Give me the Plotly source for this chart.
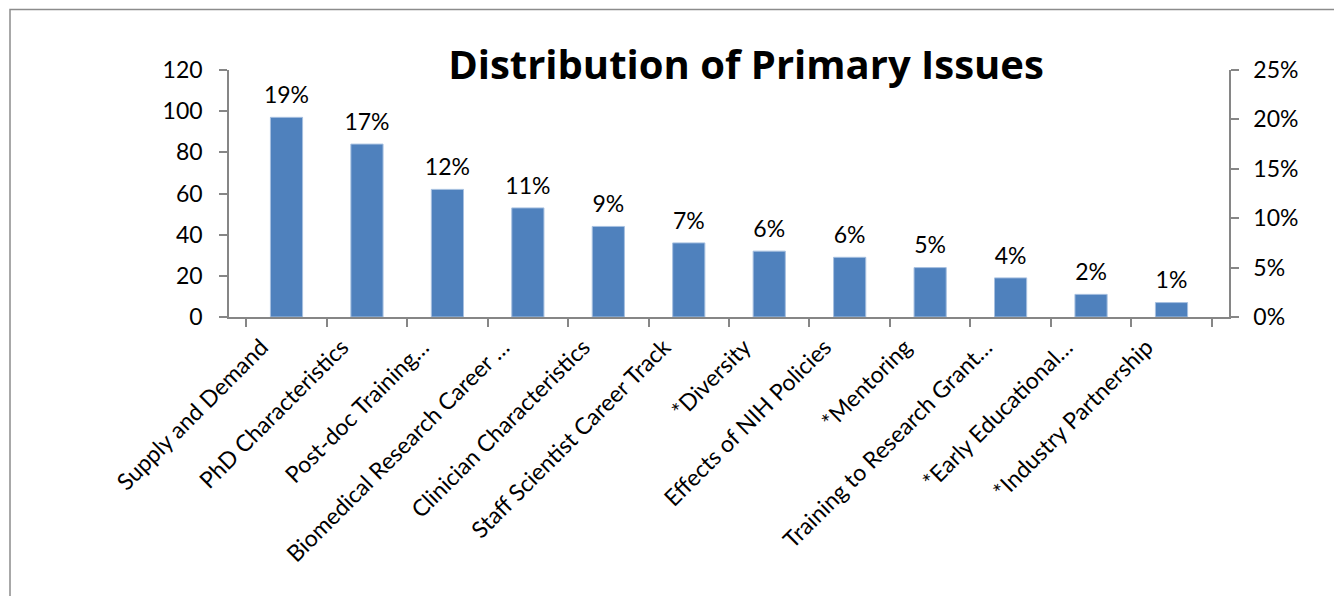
import plotly.graph_objects as go

categories = [
    "Supply and Demand",
    "PhD Characteristics",
    "Post-doc Training…",
    "Biomedical Research Career …",
    "Clinician Characteristics",
    "Staff Scientist Career Track",
    "*Diversity",
    "Effects of NIH Policies",
    "*Mentoring",
    "Training to Research Grant…",
    "*Early Educational…",
    "*Industry Partnership",
]
counts = [97, 84, 62, 53, 44, 36, 32, 29, 24, 19, 11, 7]
left_ticks = [0, 20, 40, 60, 80, 100, 120]
right_ticks = [0, 0.05, 0.10, 0.15, 0.20, 0.25]

total = sum(counts)
pct_labels = [f"{round(c / total * 100):.0f}%" for c in counts]

FONT = "Lato"
AXIS_COLOR = "#868686"
FS = 23

# page has an 8px body margin; plot area in window: x 229..1229, y 70..317
L, T = 221, 62
PW, PH = 1000, 247

fig = go.Figure()
fig.add_trace(go.Bar(
    x=categories, y=counts,
    marker=dict(color="#4F81BD", line=dict(color="#A7C0E0", width=1)),
    showlegend=False, hoverinfo="x+y",
))
fig.add_trace(go.Scatter(
    x=categories, y=counts, mode="markers+text",
    text=pct_labels, textposition="top center",
    marker=dict(size=12, color="rgba(0,0,0,0)"),
    textfont=dict(family=FONT, size=FS, color="#000"),
    showlegend=False, hoverinfo="skip",
))
# invisible trace to anchor the secondary axis
fig.add_trace(go.Scatter(
    x=categories, y=[c / total for c in counts], yaxis="y2",
    mode="markers", marker=dict(size=1, color="rgba(0,0,0,0)"),
    showlegend=False, hoverinfo="skip",
))

fig.update_layout(
    width=1342, height=596,
    margin=dict(l=L, r=1342 - L - PW, t=T, b=596 - T - PH),
    paper_bgcolor="white", plot_bgcolor="white",
    bargap=0.6,
    font=dict(family=FONT, size=FS, color="#000"),
    title=dict(
        text="<b>Distribution of Primary Issues</b>",
        font=dict(family="Open Sans", size=40, color="#000"),
        x=(746 - 8) / 1342, xref="container", xanchor="center",
        y=1 - (65 - 8) / 596, yref="container", yanchor="middle",
    ),
    xaxis=dict(
        type="category", tickangle=-45, tickson="boundaries",
        ticks="outside", ticklen=8, tickcolor=AXIS_COLOR, tickwidth=1.5,
        showline=True, linecolor=AXIS_COLOR, linewidth=1.5,
        showgrid=False, tickfont=dict(family=FONT, size=FS, color="#000"),
        ticklabelshift=-25, ticklabelstandoff=6,
    ),
    yaxis=dict(
        range=[0, 120], tickvals=left_ticks, ticks="outside", ticklen=8,
        tickcolor=AXIS_COLOR, tickwidth=1.5, showline=True,
        linecolor=AXIS_COLOR, linewidth=1.5, showgrid=False, zeroline=False,
        tickfont=dict(family=FONT, size=FS, color="#000"),
        ticklabelstandoff=12,
    ),
    yaxis2=dict(
        overlaying="y", side="right", range=[0, 0.25], tickvals=right_ticks,
        tickformat=".0%", ticks="outside", ticklen=8, tickcolor=AXIS_COLOR,
        tickwidth=1.5, showline=True, linecolor=AXIS_COLOR, linewidth=1.5,
        showgrid=False, zeroline=False,
        tickfont=dict(family=FONT, size=FS, color="#000"),
        ticklabelstandoff=10,
    ),
    shapes=[dict(
        type="rect", xref="paper", yref="paper",
        x0=(2 - L) / PW, x1=(1360 - L) / PW,
        y0=(T + PH - 620) / PH, y1=1 + (T - 1.5) / PH,
        line=dict(color="#8C8C8C", width=1.5), fillcolor="rgba(0,0,0,0)",
        layer="below",
    )],
)

fig.write_html("out.html")
